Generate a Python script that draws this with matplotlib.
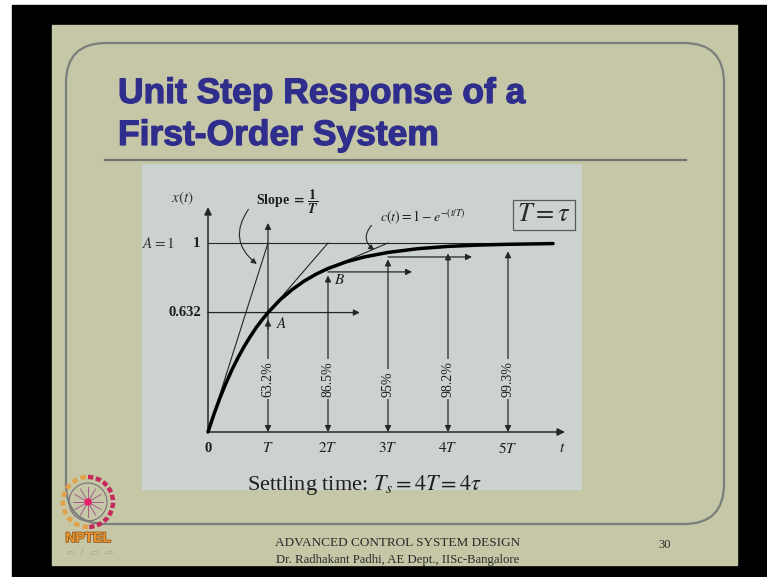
import matplotlib
matplotlib.use("Agg")
import matplotlib.pyplot as plt
from matplotlib.patches import Rectangle, FancyBboxPatch, FancyArrowPatch, Circle, Arc
import matplotlib.patheffects as pe
import numpy as np

plt.rcParams['mathtext.fontset'] = 'stix'
plt.rcParams['font.family'] = ['Liberation Serif', 'DejaVu Serif']

# Unit step response samples, time in units of T
t_samples = [0.0, 0.1, 0.2, 0.3, 0.4, 0.5, 0.6, 0.7, 0.8, 0.9, 1.0, 1.2, 1.4, 1.6,
             1.8, 2.0, 2.3, 2.6, 3.0, 3.5, 4.0, 4.5, 5.0, 5.75]
c_samples = [0.0, 0.095, 0.181, 0.259, 0.330, 0.393, 0.451, 0.503, 0.551, 0.593,
             0.632, 0.699, 0.753, 0.798, 0.835, 0.865, 0.900, 0.926, 0.950, 0.970,
             0.982, 0.989, 0.993, 0.997]

multiples = [1, 2, 3, 4, 5]
tick_labels = ['$T$', '$2T$', '$3T$', '$4T$', '$5T$']
percent_labels = ['63.2%', '86.5%', '95%', '98.2%', '99.3%']
percent_values = [0.632, 0.865, 0.95, 0.982, 0.993]

# horizontal level markers: start, end (in T) and level
level_starts = [0.0, 2.0, 3.0]
level_ends = [2.53, 3.4, 4.4]
level_values = [0.632, 0.847, 0.926]

title_lines = ['Unit Step Response of a', 'First-Order System']
footer_lines = ['ADVANCED CONTROL SYSTEM DESIGN',
                'Dr. Radhakant Padhi, AE Dept., IISc-Bangalore']
page_number = '30'

BEIGE = '#c5c7a6'
PANEL = '#ccd2cf'
INK = '#262626'
TITLE = '#302e8c'

W, H = 767, 577
fig = plt.figure(figsize=(W / 100, H / 100), dpi=100)
fig.patch.set_facecolor('white')

# ---- slide background (pixel coordinates, y downwards) ----
bg = fig.add_axes([0, 0, 1, 1])
bg.set_xlim(0, W)
bg.set_ylim(H, 0)
bg.set_axis_off()
bg.add_patch(Rectangle((12, 5), W - 12, H - 5, color='black', zorder=0))
bg.add_patch(Rectangle((52, 25), 685, 540, color=BEIGE, zorder=1))
bg.add_patch(FancyBboxPatch((66, 43), 658, 481,
                            boxstyle='round,pad=0,rounding_size=40',
                            fill=False, ec='#7b807c', lw=1.6, zorder=2))
bg.plot([105, 686], [160, 160], color='#6f746f', lw=1.6, zorder=2)

for i, line in enumerate(title_lines):
    txt = bg.text(118, 103 + 42 * i, line, fontsize=25.5, fontweight='bold',
                  family='Liberation Sans', color=TITLE, va='baseline', zorder=3)
    txt.set_path_effects([pe.SimpleLineShadow(offset=(1.2, -1.2), shadow_color='#444444', alpha=0.3),
                          pe.withStroke(linewidth=0.9, foreground=TITLE)])

bg.text(398, 546, footer_lines[0], fontsize=9.5, ha='center', va='baseline', color='#2b2b2b', zorder=3)
bg.text(398, 563, footer_lines[1], fontsize=9.2, ha='center', va='baseline', color='#2b2b2b', zorder=3)
bg.text(665, 548, page_number, fontsize=9, ha='center', va='baseline', color='#2b2b2b', zorder=3)

# ---- NPTEL emblem ----
cx, cy = 88, 502
bg.add_patch(Arc((cx, cy), 50, 50, theta1=90, theta2=270, color='#e2a048', lw=3.2,
                 ls=(0, (1.2, 0.8)), zorder=3))
bg.add_patch(Arc((cx, cy), 50, 50, theta1=-90, theta2=90, color='#c42a5c', lw=3.2,
                 ls=(0, (1.2, 0.6)), zorder=3))
bg.add_patch(Circle((cx, cy), 19, fill=False, ec='#7a6f78', lw=0.8, zorder=3))
for ang in np.arange(0, 360, 30):
    a = np.deg2rad(ang)
    bg.plot([cx, cx + 15 * np.cos(a)], [cy, cy + 15 * np.sin(a)], color='#a2608a', lw=0.7, zorder=3)
bg.add_patch(Circle((cx, cy), 3, color='#e8206a', zorder=4))
bg.text(cx, 538, 'NPTEL', fontsize=10, fontweight='bold', family='Liberation Sans',
        color='#e8962e', ha='center', va='center', zorder=3,
        path_effects=[pe.withStroke(linewidth=1.2, foreground='#9a5a20')])
bg.text(cx + 2, 553, '\u21e6  \u2215  \u25ad  \u21e8', fontsize=7, family='DejaVu Sans',
        color='#a9aa92', ha='center', va='center', zorder=3)

# ---- response diagram ----
ax = fig.add_axes([142 / W, 87 / H, 440 / W, 326 / H])
ax.set_xlim(-1.1, 6.2333)
ax.set_ylim(-0.3069, 1.4180)
ax.set_facecolor(PANEL)
for s in ax.spines.values():
    s.set_visible(False)
ax.set_xticks([])
ax.set_yticks([])

arrow_kw = dict(arrowstyle='-|>', lw=0.9, color=INK, mutation_scale=9, shrinkA=0, shrinkB=0)
dbl_kw = dict(arrowstyle='<|-|>', lw=0.9, color=INK, mutation_scale=9, shrinkA=0, shrinkB=0)

# coordinate axes
ax.annotate('', xy=(5.95, 0), xytext=(0, 0), arrowprops=dict(arrow_kw, lw=1.1, mutation_scale=11))
ax.annotate('', xy=(0, 1.19), xytext=(0, 0), arrowprops=dict(arrow_kw, lw=1.1, mutation_scale=11))

# final value and tangent lines
ax.plot([0, t_samples[-1]], [1, 1], color=INK, lw=0.8)
ax.plot([0, 1], [0, 1], color=INK, lw=0.8)
ax.plot([1, 2], [percent_values[0], 1], color=INK, lw=0.8)
ax.plot([2, 3], [percent_values[1], 1], color=INK, lw=0.8)

# response curve
ax.plot(t_samples, c_samples, color='black', lw=2.5, zorder=4, solid_capstyle='round')

# vertical double arrows at multiples of T
gap = 7 / 189
for m, v, lab in zip(multiples, percent_values, percent_labels):
    tip = v - gap
    if m == 1:
        ax.annotate('', xy=(1, 0), xytext=(1, 1.106), arrowprops=dbl_kw)
        ax.annotate('', xy=(1, tip), xytext=(1, tip - 0.05), arrowprops=arrow_kw)
    else:
        ax.annotate('', xy=(m, 0), xytext=(m, tip), arrowprops=dbl_kw)
    ax.text(m, 0.185, lab, rotation=90, ha='center', va='bottom', fontsize=10,
            color='#1e1e1e', zorder=5,
            bbox=dict(fc=PANEL, ec='none', pad=1.5))

# horizontal level arrows
for s, e, lv in zip(level_starts, level_ends, level_values):
    ax.annotate('', xy=(e, lv), xytext=(s, lv), arrowprops=arrow_kw)

# axis labels
ax.text(0, -0.085, '0', ha='center', va='center', fontsize=10.5, fontweight='bold', color='#1e1e1e')
for m, lab in zip(multiples, tick_labels):
    ax.text(m, -0.085, lab, ha='center', va='center', fontsize=11, color='#1e1e1e')
ax.text(5.9, -0.085, '$t$', ha='center', va='center', fontsize=11, color='#1e1e1e')
ax.text(-0.13, 1.0, '1', ha='right', va='center', fontsize=10.5, fontweight='bold', color='#1e1e1e')
ax.text(-0.12, 0.632, '0.632', ha='right', va='center', fontsize=10.5, fontweight='bold', color='#1e1e1e')
ax.text(-0.83, 1.0, '$A = 1$', ha='center', va='center', fontsize=11, color='#333333')
ax.text(-0.42, 1.238, '$x(t)$', ha='center', va='center', fontsize=11, color='#333333')
ax.text(1.23, 0.575, '$A$', ha='center', va='center', fontsize=11, color='#1e1e1e')
ax.text(2.2, 0.804, '$B$', ha='center', va='center', fontsize=11, color='#1e1e1e')

# slope annotation
ax.text(1.33, 1.217, r'Slope $\mathbf{=}\,\dfrac{\mathbf{1}}{\boldsymbol{T}}$', ha='center', va='center',
        fontsize=10, fontweight='bold', color='#1e1e1e')
ax.add_patch(FancyArrowPatch((0.7, 1.19), (0.85, 0.88), connectionstyle='arc3,rad=0.5',
                             arrowstyle='-|>', mutation_scale=8, lw=0.8, color=INK))

# response formula annotation
ax.text(3.58, 1.138, r'$c(t) = 1 - e^{-(t/T)}$', ha='center', va='center', fontsize=10, color='#1e1e1e')
ax.add_patch(FancyArrowPatch((2.755, 1.104), (2.81, 0.954), connectionstyle='arc3,rad=0.6',
                             arrowstyle='-|>', mutation_scale=8, lw=0.8, color=INK))

# time constant box
ax.text(5.6, 1.148, r'$T = \tau$', ha='center', va='center', fontsize=19, color='#2a2a2a',
        bbox=dict(boxstyle='square,pad=0.15', fc='none', ec='#5a5a5a', lw=0.9))

# settling time caption, drawn above the diagram panel
fig.text(364 / W, 1 - 490 / H, r'Settling time: $T_s = 4T = 4\tau$', fontsize=16,
         ha='center', va='baseline', color='#1e1e1e', zorder=10)

fig.savefig('out.png', dpi=100, facecolor=fig.get_facecolor())
